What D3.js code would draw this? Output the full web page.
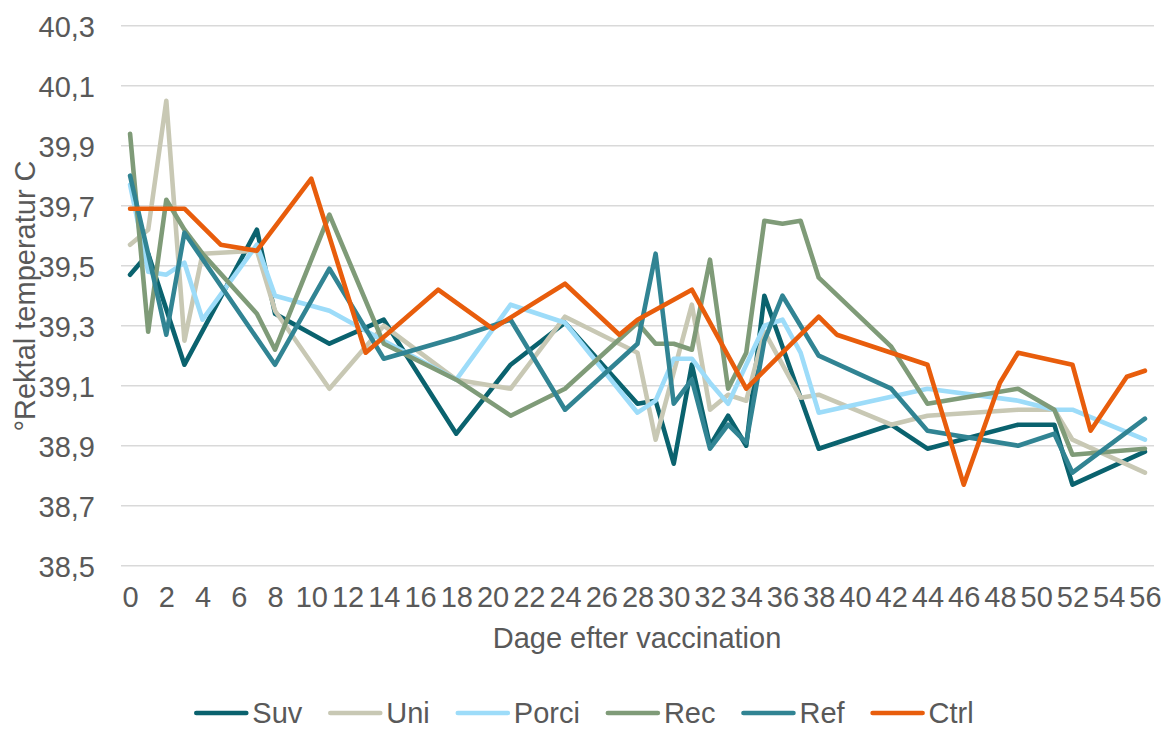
<!DOCTYPE html>
<html>
<head>
<meta charset="utf-8">
<script src="https://cdn.jsdelivr.net/npm/d3@7"></script>
<style>
  html, body { margin: 0; padding: 0; background: #ffffff; }
  svg { display: block; font-family: "Liberation Sans", Arial, sans-serif; }
</style>
</head>
<body>
<svg id="chart" width="1164" height="729"></svg>
<script>
// ---- data ----
const seriesNames = ["Suv", "Uni", "Porci", "Rec", "Ref", "Ctrl"];
const seriesColors = ["#0a626e", "#c8c8b4", "#9ddcf9", "#7f9b78", "#318493", "#e85d0c"];

const suvDays  = [0, 1, 3, 7, 8, 11, 14, 18, 21, 24, 28, 29, 30, 31, 32, 33, 34, 35, 38, 42, 44, 49, 51, 52, 56];
const suvTemps = [39.47, 39.54, 39.17, 39.62, 39.34, 39.24, 39.32, 38.94, 39.17, 39.31, 39.04, 39.05, 38.84, 39.17, 38.90, 39.00, 38.90, 39.40, 38.89, 38.97, 38.89, 38.97, 38.97, 38.77, 38.88];

const uniDays  = [0, 1, 2, 3, 4, 7, 8, 11, 14, 18, 21, 24, 28, 29, 31, 32, 33, 34, 35, 37, 38, 42, 44, 49, 51, 52, 56];
const uniTemps = [39.57, 39.62, 40.05, 39.25, 39.54, 39.55, 39.35, 39.09, 39.30, 39.12, 39.09, 39.33, 39.21, 38.92, 39.37, 39.02, 39.07, 39.05, 39.28, 39.06, 39.07, 38.97, 39.00, 39.02, 39.02, 38.92, 38.81];

const porciDays  = [0, 1, 2, 3, 4, 7, 8, 11, 14, 18, 21, 24, 28, 29, 30, 31, 32, 33, 35, 36, 37, 38, 44, 49, 51, 52, 56];
const porciTemps = [39.77, 39.48, 39.47, 39.51, 39.32, 39.57, 39.40, 39.35, 39.25, 39.12, 39.37, 39.31, 39.01, 39.05, 39.19, 39.19, 39.11, 39.04, 39.30, 39.32, 39.21, 39.01, 39.09, 39.05, 39.02, 39.02, 38.92];

const recDays  = [0, 1, 2, 3, 4, 7, 8, 11, 14, 18, 21, 24, 28, 29, 30, 31, 32, 33, 34, 35, 36, 37, 38, 42, 44, 49, 51, 52, 56];
const recTemps = [39.94, 39.28, 39.72, 39.62, 39.54, 39.34, 39.22, 39.67, 39.24, 39.12, 39.00, 39.09, 39.31, 39.24, 39.24, 39.22, 39.52, 39.09, 39.21, 39.65, 39.64, 39.65, 39.46, 39.23, 39.04, 39.09, 39.02, 38.87, 38.89];

const refDays  = [0, 1, 2, 3, 8, 11, 14, 18, 21, 24, 28, 29, 30, 31, 32, 33, 34, 35, 36, 38, 42, 44, 49, 51, 52, 56];
const refTemps = [39.80, 39.54, 39.27, 39.61, 39.17, 39.49, 39.19, 39.26, 39.32, 39.02, 39.24, 39.54, 39.04, 39.12, 38.89, 38.97, 38.91, 39.25, 39.40, 39.20, 39.09, 38.95, 38.90, 38.94, 38.81, 38.99];

const ctrlDays  = [0, 1, 2, 3, 5, 7, 10, 13, 17, 20, 24, 27, 28, 31, 34, 38, 39, 44, 46, 48, 49, 52, 53, 55, 56];
const ctrlTemps = [39.69, 39.69, 39.69, 39.69, 39.57, 39.55, 39.79, 39.21, 39.42, 39.29, 39.44, 39.27, 39.32, 39.42, 39.09, 39.33, 39.27, 39.17, 38.77, 39.11, 39.21, 39.17, 38.95, 39.13, 39.15];

const xTickValues = d3.range(0, 57, 2);
const yTickValues = [38.5, 38.7, 38.9, 39.1, 39.3, 39.5, 39.7, 39.9, 40.1, 40.3];
const xTitle = "Dage efter vaccination";
const yTitle = "°Rektal temperatur C";

const seriesDays = [suvDays, uniDays, porciDays, recDays, refDays, ctrlDays];
const seriesTemps = [suvTemps, uniTemps, porciTemps, recTemps, refTemps, ctrlTemps];

// ---- layout ----
const svg = d3.select("#chart");
const textColor = "#595959";
const fontSize = 29;

const x = d3.scaleLinear().domain([-0.5, 56.5]).range([121, 1154]);
const y = d3.scaleLinear().domain([38.5, 40.3]).range([565.7, 25.7]);

// gridlines
svg.append("g").selectAll("line").data(yTickValues).join("line")
  .attr("x1", x(-0.5)).attr("x2", x(56.5))
  .attr("y1", d => y(d)).attr("y2", d => y(d))
  .attr("stroke", "#d9d9d9").attr("stroke-width", 1.5);

// y axis labels
const fmt = d => d.toFixed(1).replace(".", ",");
const yAxis = d3.axisLeft(y).tickValues(yTickValues).tickFormat(fmt).tickSize(0).tickPadding(0);
const gy = svg.append("g").attr("transform", "translate(95,0)").call(yAxis);
gy.select(".domain").remove();
gy.selectAll("text").attr("fill", textColor).attr("font-size", fontSize)
  .attr("font-family", "Liberation Sans, Arial, sans-serif").attr("dy", "0.36em");

// x axis labels
const xAxis = d3.axisBottom(x).tickValues(xTickValues).tickFormat(d => String(d)).tickSize(0).tickPadding(0);
const gx = svg.append("g").attr("transform", "translate(0,586)").call(xAxis);
gx.select(".domain").remove();
gx.selectAll("text").attr("fill", textColor).attr("font-size", fontSize)
  .attr("font-family", "Liberation Sans, Arial, sans-serif").attr("dy", "0.72em");

// axis titles
svg.append("text").attr("x", 637).attr("y", 648).attr("text-anchor", "middle")
  .attr("fill", textColor).attr("font-size", fontSize).text(xTitle);
svg.append("text").attr("transform", "translate(35,296) rotate(-90)").attr("text-anchor", "middle")
  .attr("fill", textColor).attr("font-size", fontSize).text(yTitle);

// lines
const line = d3.line().x(d => x(d[0])).y(d => y(d[1]));
seriesNames.forEach((name, i) => {
  const pts = seriesDays[i].map((d, j) => [d, seriesTemps[i][j]]);
  svg.append("path").datum(pts)
    .attr("d", line)
    .attr("fill", "none")
    .attr("stroke", seriesColors[i])
    .attr("stroke-width", 4.6)
    .attr("stroke-linejoin", "round")
    .attr("stroke-linecap", "round");
});

// legend
const legend = svg.append("g");
const lineLen = 50, gapAfterLine = 6, itemGap = 28, legendY = 713;
const items = [];
seriesNames.forEach((name, i) => {
  const g = legend.append("g");
  g.append("line").attr("x1", 0).attr("x2", lineLen).attr("y1", 0).attr("y2", 0)
    .attr("stroke", seriesColors[i]).attr("stroke-width", 4.6).attr("stroke-linecap", "round");
  const t = g.append("text").attr("x", lineLen + gapAfterLine).attr("y", 0).attr("dy", "0.33em")
    .attr("fill", textColor).attr("font-size", fontSize).text(name);
  const w = lineLen + gapAfterLine + t.node().getComputedTextLength();
  items.push({ g, w });
});
const totalW = d3.sum(items, d => d.w) + itemGap * (items.length - 1);
let start = 585 - totalW / 2;
items.forEach(it => {
  it.g.attr("transform", `translate(${start},${legendY})`);
  start += it.w + itemGap;
});
</script>
</body>
</html>
